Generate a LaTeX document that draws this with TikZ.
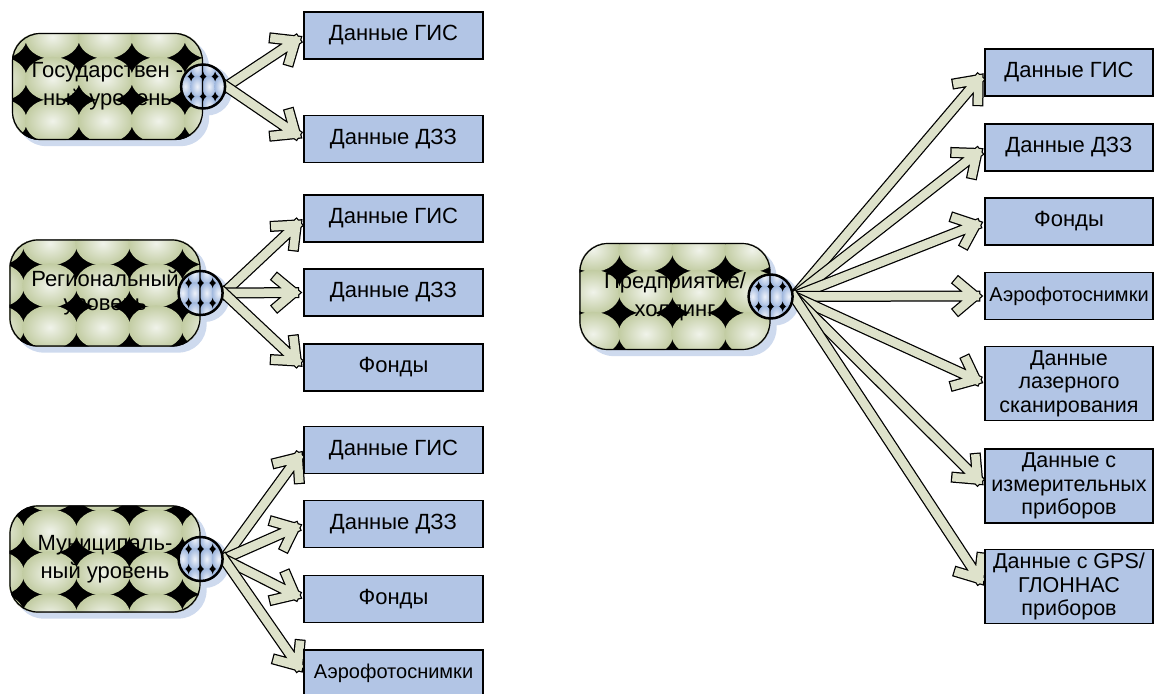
\documentclass[tikz,border=0pt]{standalone}
\usepackage{fontspec}
\setmainfont{Liberation Sans}
\usetikzlibrary{calc}
\definecolor{boxblue}{RGB}{178,197,229}
\definecolor{arrowfill}{RGB}{222,226,203}
\definecolor{ballgreen}{RGB}{194,204,162}
\definecolor{ballhi}{RGB}{240,243,234}
\definecolor{ballblue}{RGB}{160,184,222}
\definecolor{ballbluehi}{RGB}{238,242,250}
\definecolor{shadowblue}{RGB}{206,218,238}
\pgfdeclarelayer{back}
\pgfdeclarelayer{pat}
\pgfdeclarelayer{mid}
\pgfdeclarelayer{hubpat}
\pgfsetlayers{back,pat,mid,hubpat,main}
\tikzset{
  level/.style={rounded corners=28pt, draw=black, line width=1.2pt,
    minimum width=190pt, minimum height=106pt, align=center,
    font=\fontsize{22}{28}\selectfont},
  hub/.style={circle, draw=black, line width=2.5pt, minimum size=44pt, inner sep=0pt},
  ball/.style={inner color=ballhi, outer color=ballgreen},
  blueball/.style={inner color=ballbluehi, outer color=ballblue},
  datbox/.style={draw=black, line width=1.5pt, fill=boxblue, minimum height=47pt,
    inner sep=2pt, align=center, font=\fontsize{22}{26}\selectfont},
  leftbox/.style={datbox, minimum width=179pt},
  rightbox/.style={datbox, minimum width=168pt},
  smallbox/.style={font=\fontsize{20}{24}\selectfont},
  tallbox/.style={rightbox, minimum height=74pt, font=\fontsize{21.5}{23.5}\selectfont},
  link/.style={draw=arrowfill, line width=8.5pt, line cap=rect, line join=miter,
    preaction={draw=black, line width=11pt, line cap=rect, line join=miter}}
}
\begin{document}
\begin{tikzpicture}[x=1pt,y=-1pt]
\useasboundingbox (0,0) rectangle (1155,693);
% levels
\node[level] (gos) at (107.5,86.5) {Государствен -\\ный уровень};
\node[level, font=\fontsize{22}{24}\selectfont] (reg) at (105,293) {Региональный\\уровень};
\node[level] (mun) at (105,559) {Муниципаль-\\ный уровень};
\node[level] (hold) at (675,296.5) {Предприятие/\\холдинг};
\node[hub] (gos-hub) at (gos.east) {};
\node[hub] (reg-hub) at (reg.east) {};
\node[hub] (mun-hub) at (mun.east) {};
\node[hub] (hold-hub) at (hold.east) {};
% left column
\node[leftbox] (gos-gis) at (393.5,35.5) {Данные ГИС};
\node[leftbox] (gos-dzz) at (393.5,139) {Данные ДЗЗ};
\node[leftbox] (reg-gis) at (393.5,218.5) {Данные ГИС};
\node[leftbox] (reg-dzz) at (393.5,292.5) {Данные ДЗЗ};
\node[leftbox] (reg-fond) at (393.5,367.5) {Фонды};
\node[leftbox] (mun-gis) at (393.5,450) {Данные ГИС};
\node[leftbox] (mun-dzz) at (393.5,524) {Данные ДЗЗ};
\node[leftbox] (mun-fond) at (393.5,599) {Фонды};
\node[leftbox, smallbox] (mun-aero) at (393.5,673.5) {Аэрофотоснимки};
% right column
\node[rightbox] (hold-gis) at (1069,72.5) {Данные ГИС};
\node[rightbox] (hold-dzz) at (1069,147.5) {Данные ДЗЗ};
\node[rightbox] (hold-fond) at (1069,221.5) {Фонды};
\node[rightbox, smallbox] (hold-aero) at (1069,296) {Аэрофотоснимки};
\node[tallbox] (hold-laser) at (1069,383.5) {Данные\\лазерного\\сканирования};
\node[tallbox] (hold-izm) at (1069,486) {Данные с\\измерительных\\приборов};
\node[tallbox] (hold-gps) at (1069,586.5) {Данные с GPS/\\ГЛОННАС\\приборов};
% shadows
\begin{pgfonlayer}{back}
\foreach \n in {gos,reg,mun,hold}
  \fill[shadowblue, rounded corners=28pt] ([shift={(6pt,-6pt)}]\n.north west) rectangle ([shift={(6pt,-6pt)}]\n.south east);
\foreach \n in {gos-hub,reg-hub,mun-hub,hold-hub}
  \fill[shadowblue] ([shift={(4pt,-4pt)}]\n.center) circle (25pt);
\end{pgfonlayer}
% ball fill of the levels
\begin{pgfonlayer}{pat}
\foreach \n/\dx/\dy in {gos/-12.5/4, reg/-12.5/4, mun/-12.5/-16, hold/13.5/7}{
  \begin{scope}
    \clip[rounded corners=28pt] (\n.north west) rectangle (\n.south east);
    \fill[black] (\n.north west) rectangle (\n.south east);
    \foreach \i in {-1,...,4}
      \foreach \j in {-1,...,3}
        \shade[ball] ($(\n.north west)+({\dx+53*\i},{\dy+42*\j})$) ellipse (27.5pt and 22pt);
  \end{scope}}
\end{pgfonlayer}
% links
\begin{pgfonlayer}{mid}
\foreach \from/\to in {gos-hub/gos-gis, gos-hub/gos-dzz,
    reg-hub/reg-gis, reg-hub/reg-dzz, reg-hub/reg-fond,
    mun-hub/mun-gis, mun-hub/mun-dzz, mun-hub/mun-fond, mun-hub/mun-aero,
    hold-hub/hold-gis, hold-hub/hold-dzz, hold-hub/hold-fond, hold-hub/hold-aero,
    hold-hub/hold-laser, hold-hub/hold-izm, hold-hub/hold-gps}{
  \coordinate (tip) at ($(\to.west)!9.5pt!(\from.east)$);
  \draw[link] (\from.east) -- (tip)
    ($(tip)!21pt!40:(\from.east)$) -- (tip) -- ($(tip)!21pt!-40:(\from.east)$);
}
\end{pgfonlayer}
% ball fill of the hubs
\begin{pgfonlayer}{hubpat}
\foreach \n in {gos-hub,reg-hub,mun-hub,hold-hub}{
  \begin{scope}
    \clip (\n.center) circle (22pt);
    \fill[black] (\n.center) circle (22pt);
    \foreach \cx in {-30,-18,...,30}
      \foreach \cy in {-20,0,20}
        \shade[blueball] ($(\n.center)+(\cx,\cy)$) ellipse (6.8pt and 10.8pt);
  \end{scope}}
\end{pgfonlayer}
\end{tikzpicture}
\end{document}
